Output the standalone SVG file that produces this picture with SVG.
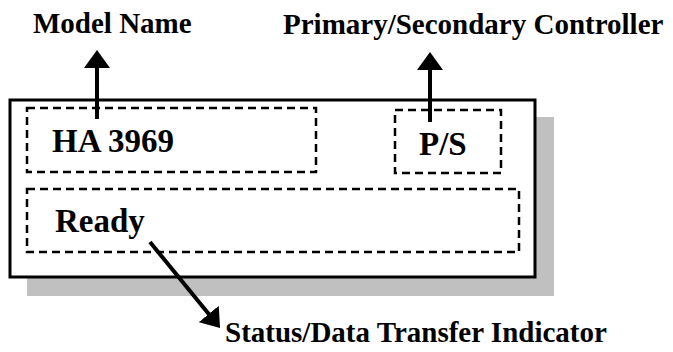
<svg xmlns="http://www.w3.org/2000/svg" width="673" height="352" viewBox="0 0 673 352">
  <style>
    .lbl { font-family: "Liberation Serif", "Times New Roman", serif; font-weight: bold; font-size: 29px; fill: #000; }
    .big { font-family: "Liberation Serif", "Times New Roman", serif; font-weight: bold; font-size: 33px; fill: #000; }
    .dash { fill: none; stroke: #000; stroke-width: 2.5; stroke-dasharray: 8 5; }
    .conn { stroke: #000; stroke-width: 4; fill: none; }
  </style>
  <defs>
    <marker id="head" markerUnits="userSpaceOnUse" viewBox="0 0 18 26" refX="4" refY="13" markerWidth="18" markerHeight="26" orient="auto">
      <path d="M0,0 L18,13 L0,26 Z" fill="#000"/>
    </marker>
  </defs>
  <rect width="673" height="352" fill="#fff"/>
  <g id="panel">
    <rect x="27" y="117" width="527" height="179" fill="#c0c0c0"/>
    <rect x="10" y="100" width="525" height="177" fill="#fff" stroke="#000" stroke-width="3"/>
  </g>
  <g id="model-field">
    <rect class="dash" x="27" y="108" width="289" height="64"/>
    <text class="big" x="52" y="152">HA 3969</text>
  </g>
  <g id="ps-field">
    <rect class="dash" x="395" y="110" width="106" height="63"/>
    <text class="big" x="419" y="155">P/S</text>
  </g>
  <g id="status-field">
    <rect class="dash" x="27" y="189" width="492" height="63"/>
    <text class="big" x="55" y="232">Ready</text>
  </g>
  <g id="label-model">
    <text class="lbl" x="33" y="33">Model Name</text>
  </g>
  <g id="label-ps">
    <text class="lbl" x="283" y="34">Primary/Secondary Controller</text>
  </g>
  <g id="label-status">
    <text class="lbl" x="225" y="342">Status/Data Transfer Indicator</text>
  </g>
  <g id="connectors">
    <line class="conn" x1="97" y1="119" x2="97" y2="64" marker-end="url(#head)"/>
    <line class="conn" x1="430" y1="122" x2="430" y2="66" marker-end="url(#head)"/>
    <line class="conn" x1="150" y1="242" x2="211.2" y2="317.1" marker-end="url(#head)"/>
  </g>
</svg>
